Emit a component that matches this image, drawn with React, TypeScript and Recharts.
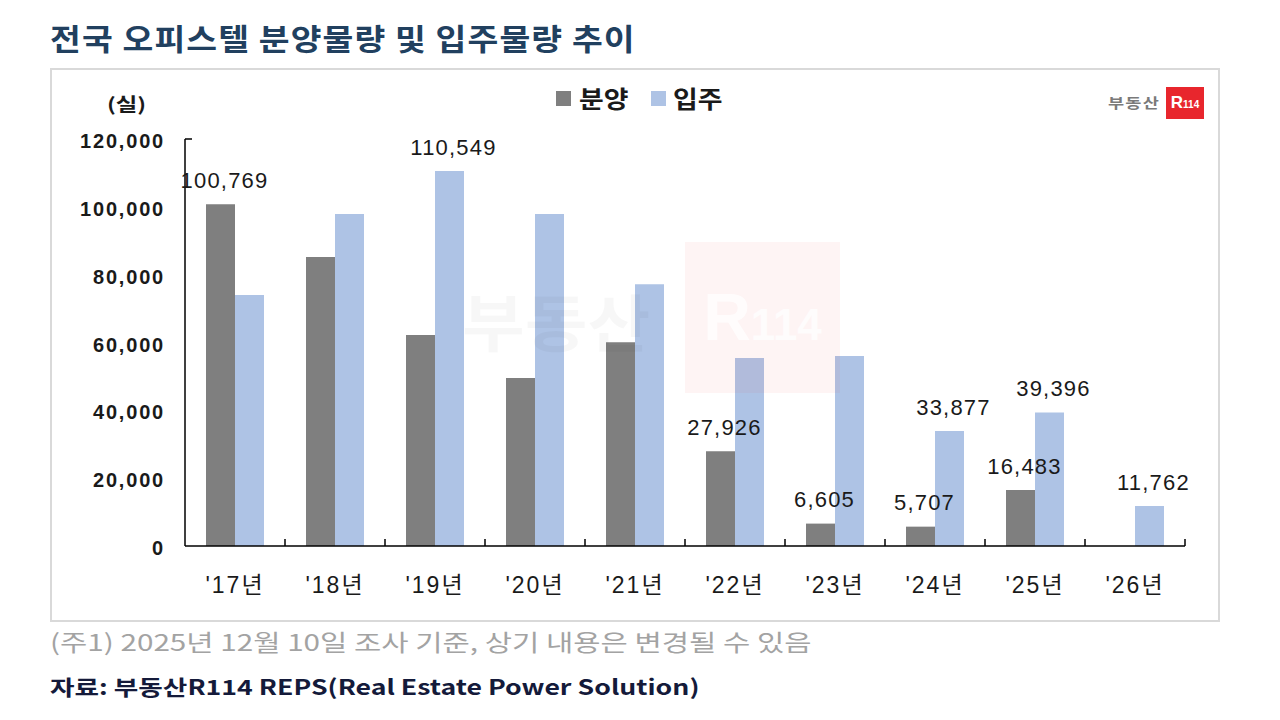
import React from 'react';
import { BarChart, Bar, XAxis, YAxis, LabelList } from 'recharts';

const years = ["'17년", "'18년", "'19년", "'20년", "'21년", "'22년", "'23년", "'24년", "'25년", "'26년"];
const bunyang = [100769, 85200, 62200, 49500, 60100, 27926, 6605, 5707, 16483, null];
const ipju = [74000, 97900, 110549, 97900, 77200, 55400, 56000, 33877, 39396, 11762];
// years whose bars carry a value label in the original
const bunyangLabeled = ["'17년", "'22년", "'23년", "'24년", "'25년"];
const ipjuLabeled = ["'19년", "'24년", "'25년", "'26년"];
const yTicks = [0, 20000, 40000, 60000, 80000, 100000, 120000];

const data = years.map((year, i) => ({
  year,
  bunyang: bunyang[i],
  ipju: ipju[i],
  bunyangLabel: bunyangLabeled.includes(year) ? bunyang[i] : null,
  ipjuLabel: ipjuLabeled.includes(year) ? ipju[i] : null,
}));

const PLOT_LEFT = 185;
const PLOT_RIGHT = 1185;
const PLOT_TOP = 139;
const PLOT_BOTTOM = 546;
const BAND = (PLOT_RIGHT - PLOT_LEFT) / years.length;

const DARK = '#7f7f7f';
const LIGHT = '#aec3e5';

const NUM_FONT = "'Liberation Sans', Arial, 'Noto Sans CJK KR', sans-serif";
const KR_FONT = "'Noto Sans CJK KR', 'Noto Sans', sans-serif";

const fmt = (v: number) => v.toLocaleString('en-US');

const XTick = (props: any) => {
  const { x, y, payload } = props;
  return (
    <g>
      <line x1={x + BAND / 2} x2={x + BAND / 2} y1={y} y2={y - 7} stroke="#000" strokeWidth={1.5} />
      <text
        x={x}
        y={y + 39}
        textAnchor="middle"
        dominantBaseline="central"
        fontFamily={NUM_FONT}
        fontSize={23}
        letterSpacing={2}
        fill="#1a1a1a"
      >
        {payload.value}
      </text>
    </g>
  );
};

const YTick = (props: any) => {
  const { x, y, payload } = props;
  const axisX = x + 20;
  return (
    <g>
      {payload.value === yTicks[yTicks.length - 1] && (
        <line x1={axisX} x2={axisX + 7} y1={y} y2={y} stroke="#000" strokeWidth={1.5} />
      )}
      <text
        x={x}
        y={y + 2}
        textAnchor="end"
        dominantBaseline="central"
        fontFamily={NUM_FONT}
        fontWeight={700}
        fontSize={20}
        letterSpacing={1.8}
        fill="#1a1a1a"
      >
        {fmt(payload.value)}
      </text>
    </g>
  );
};

const ValueLabel = (props: any) => {
  const { value } = props;
  if (value === null || value === undefined) return null;
  const vb = props.viewBox || props;
  const cx = vb.x + vb.width / 2 + 4;
  return (
    <text
      x={cx}
      y={vb.y - 24}
      textAnchor="middle"
      dominantBaseline="central"
      fontFamily={NUM_FONT}
      fontSize={22}
      letterSpacing={1.2}
      fill="#1a1a1a"
    >
      {fmt(value)}
    </text>
  );
};

const stretch = (sx: number): React.CSSProperties => ({
  transform: `scaleX(${sx})`,
  transformOrigin: 'left center',
  whiteSpace: 'nowrap',
});

const legendText: React.CSSProperties = {
  position: 'absolute',
  top: 82,
  fontFamily: KR_FONT,
  fontWeight: 700,
  fontSize: 24,
  lineHeight: '32px',
  color: '#1a1a1a',
  ...stretch(1.12),
};

export default function App() {
  return (
    <div
      style={{
        position: 'fixed',
        left: 0,
        top: 0,
        width: 1280,
        height: 720,
        background: '#fff',
        overflow: 'hidden',
      }}
    >
      <div
        style={{
          position: 'absolute',
          left: 50,
          top: 15,
          fontFamily: KR_FONT,
          fontWeight: 700,
          fontSize: 30,
          lineHeight: '44px',
          color: '#21405f',
          letterSpacing: 1,
          ...stretch(1.115),
        }}
      >
        전국 오피스텔 분양물량 및 입주물량 추이
      </div>

      <div
        style={{
          position: 'absolute',
          left: 50,
          top: 68,
          width: 1170,
          height: 554,
          border: '2px solid #d9d9d9',
          boxSizing: 'border-box',
        }}
      />

      {/* logo */}
      <div
        style={{
          position: 'absolute',
          left: 1108,
          top: 92,
          fontFamily: KR_FONT,
          fontWeight: 700,
          fontSize: 14,
          lineHeight: '20px',
          color: '#7a7a7a',
          letterSpacing: 1,
          ...stretch(1.25),
        }}
      >
        부동산
      </div>
      <div
        style={{
          position: 'absolute',
          left: 1166,
          top: 87,
          width: 38,
          height: 32,
          background: '#e8262d',
          color: '#fff',
          fontFamily: NUM_FONT,
          fontWeight: 700,
          fontSize: 17,
          lineHeight: '32px',
          textAlign: 'center',
        }}
      >
        R<span style={{ fontSize: 10 }}>114</span>
      </div>

      {/* unit */}
      <div
        style={{
          position: 'absolute',
          left: 107,
          top: 91,
          fontFamily: KR_FONT,
          fontWeight: 700,
          fontSize: 18,
          lineHeight: '24px',
          color: '#1a1a1a',
          ...stretch(1.3),
        }}
      >
        (실)
      </div>

      {/* legend */}
      <div style={{ position: 'absolute', left: 556, top: 91, width: 15, height: 15, background: DARK }} />
      <div style={{ ...legendText, left: 579 }}>분양</div>
      <div style={{ position: 'absolute', left: 651, top: 91, width: 15, height: 15, background: LIGHT }} />
      <div style={{ ...legendText, left: 673 }}>입주</div>

      <div style={{ position: 'absolute', left: 0, top: 0 }}>
        <BarChart
          width={1280}
          height={720}
          data={data}
          margin={{ top: PLOT_TOP, right: 1280 - PLOT_RIGHT, bottom: 720 - PLOT_BOTTOM - 40, left: PLOT_LEFT - 100 }}
          barCategoryGap="21%"
          barGap={0}
        >
          <XAxis
            dataKey="year"
            height={40}
            axisLine={{ stroke: '#000', strokeWidth: 1.5 }}
            tickLine={false}
            tickSize={0}
            tickMargin={0}
            tick={<XTick />}
            interval={0}
          />
          <YAxis
            width={100}
            domain={[0, 120000]}
            ticks={yTicks}
            axisLine={{ stroke: '#000', strokeWidth: 1.5 }}
            tickLine={false}
            tickSize={0}
            tickMargin={20}
            tick={<YTick />}
            interval={0}
          />
          <Bar dataKey="bunyang" fill={DARK} isAnimationActive={false}>
            <LabelList dataKey="bunyangLabel" content={<ValueLabel />} />
          </Bar>
          <Bar dataKey="ipju" fill={LIGHT} isAnimationActive={false}>
            <LabelList dataKey="ipjuLabel" content={<ValueLabel />} />
          </Bar>
        </BarChart>
      </div>

      {/* faint watermark, drawn over the bars */}
      <div
        style={{
          position: 'absolute',
          left: 685,
          top: 242,
          width: 155,
          height: 151,
          background: 'rgba(235, 60, 60, 0.055)',
          color: 'rgba(255,255,255,0.75)',
          fontFamily: NUM_FONT,
          fontWeight: 700,
          fontSize: 66,
          lineHeight: '151px',
          textAlign: 'center',
          pointerEvents: 'none',
        }}
      >
        R<span style={{ fontSize: 44 }}>114</span>
      </div>
      <div
        style={{
          position: 'absolute',
          left: 462,
          top: 280,
          fontFamily: KR_FONT,
          fontWeight: 700,
          fontSize: 62,
          lineHeight: '80px',
          color: 'rgba(0,0,0,0.03)',
          pointerEvents: 'none',
          ...stretch(1.1),
        }}
      >
        부동산
      </div>

      <div
        style={{
          position: 'absolute',
          left: 50,
          top: 625,
          fontFamily: KR_FONT,
          fontSize: 23,
          lineHeight: '32px',
          color: '#a3a3a3',
          ...stretch(1.29),
        }}
      >
        (주1) 2025년 12월 10일 조사 기준, 상기 내용은 변경될 수 있음
      </div>
      <div
        style={{
          position: 'absolute',
          left: 50,
          top: 669,
          fontFamily: KR_FONT,
          fontWeight: 700,
          fontSize: 21,
          lineHeight: '34px',
          color: '#141a3a',
          ...stretch(1.27),
        }}
      >
        자료: 부동산R114 REPS(Real Estate Power Solution)
      </div>
    </div>
  );
}
